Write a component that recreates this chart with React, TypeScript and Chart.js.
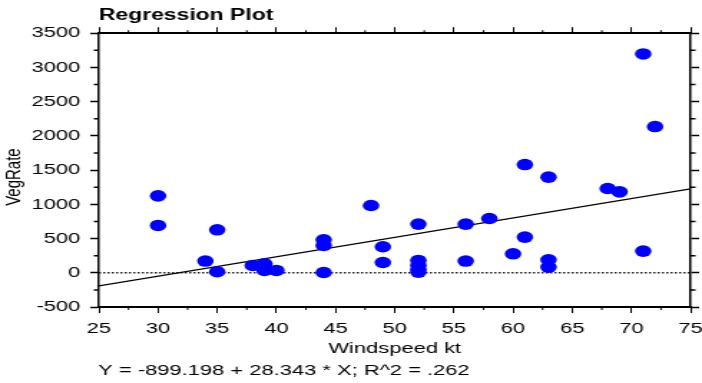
import React, { useEffect, useRef } from 'react';
import { Chart, registerables } from 'chart.js';

Chart.register(...registerables);

// ---- data ----
const windspeed = [30, 30, 34, 35, 35, 38, 39, 39, 40, 44, 44, 44, 48, 49, 49, 52, 52, 52, 52, 52, 56, 56, 58, 60, 61, 61, 63, 63, 63, 68, 69, 71, 71, 72];
const vegRate = [1124, 691, 171, 628, 15, 107, 131, 34, 34, 482, 399, 4, 983, 380, 150, 711, 180, 110, 50, 10, 711, 171, 793, 277, 521, 1581, 1397, 190, 83, 1231, 1182, 3197, 317, 2136];
const INTERCEPT = -899.198;
const SLOPE = 28.343;
const R_SQUARED = '.262';
const X_MIN = 25;
const X_MAX = 75;
const X_STEP = 5;
const Y_MIN = -500;
const Y_MAX = 3500;
const Y_STEP = 500;
const TITLE = 'Regression Plot';
const X_LABEL = 'Windspeed kt';
const Y_LABEL = 'VegRate';
const FOOTER = `Y = ${INTERCEPT} + ${SLOPE} * X; R^2 = ${R_SQUARED}`;

// internal canvas size, stretched horizontally by CSS to 702px
const CW = 490;
const CH = 383;
const FAMILY = '"Liberation Sans", Arial, sans-serif';

export default function App() {
  const ref = useRef<HTMLCanvasElement | null>(null);

  useEffect(() => {
    const canvas = ref.current;
    if (!canvas) return;

    const extras = {
      id: 'extras',
      afterDraw(chart: any) {
        const ctx = chart.ctx;
        const a = chart.chartArea;
        const xs = chart.scales.x;
        const ys = chart.scales.y;
        ctx.save();
        ctx.strokeStyle = '#000';
        ctx.lineWidth = 1;
        ctx.beginPath();
        for (let v = X_MIN + X_STEP / 2; v < X_MAX; v += X_STEP) {
          const px = xs.getPixelForValue(v);
          ctx.moveTo(px, a.bottom);
          ctx.lineTo(px, a.bottom + 3);
          ctx.moveTo(px, a.top);
          ctx.lineTo(px, a.top - 3);
        }
        ctx.stroke();
        ctx.lineWidth = 1.5;
        ctx.beginPath();
        for (let v = Y_MIN + Y_STEP / 2; v < Y_MAX; v += Y_STEP) {
          const py = ys.getPixelForValue(v);
          ctx.moveTo(a.left - 3.5, py);
          ctx.lineTo(a.left, py);
          ctx.moveTo(a.right, py);
          ctx.lineTo(a.right + 3.5, py);
        }
        ctx.stroke();
        ctx.fillStyle = '#000';
        ctx.font = `15.3px ${FAMILY}`;
        ctx.textAlign = 'left';
        ctx.textBaseline = 'middle';
        ctx.fillText(FOOTER, a.left - 0.5, 371);
        // y axis title
        ctx.font = `15px ${FAMILY}`;
        ctx.textAlign = 'center';
        ctx.translate(9.5, (a.top + a.bottom) / 2 + 7);
        ctx.rotate(-Math.PI / 2);
        ctx.fillText(Y_LABEL, 0, 0);
        ctx.restore();
      },
    };

    const tickFont = { size: 15.3, family: FAMILY };
    const gridOpts = { drawOnChartArea: false, drawTicks: true, tickLength: 6, tickColor: '#000' };
    const plain = (v: any) => String(v);

    const chart = new Chart(canvas, {
      type: 'scatter',
      data: {
        datasets: [
          {
            type: 'scatter',
            label: 'VegRate',
            data: windspeed.map((x, i) => ({ x, y: vegRate[i] })),
            backgroundColor: '#0000ff',
            borderColor: '#0000ff',
            borderWidth: 0,
            pointRadius: 5.8,
            pointHoverRadius: 5.8,
          },
          {
            type: 'line',
            label: 'fit',
            data: [
              { x: X_MIN, y: INTERCEPT + SLOPE * X_MIN },
              { x: X_MAX, y: INTERCEPT + SLOPE * X_MAX },
            ],
            borderColor: '#000',
            borderWidth: 1.3,
            pointRadius: 0,
            fill: false,
          },
          {
            type: 'line',
            label: 'zero',
            data: [
              { x: X_MIN, y: 0 },
              { x: X_MAX, y: 0 },
            ],
            borderColor: '#222',
            borderWidth: 1.5,
            borderDash: [1.5, 1.5],
            pointRadius: 0,
            fill: false,
          },
        ],
      } as any,
      options: {
        animation: false,
        responsive: false,
        devicePixelRatio: 1,
        layout: { padding: 0 },
        plugins: {
          legend: { display: false },
          tooltip: { enabled: false },
          title: {
            display: true,
            text: TITLE,
            align: 'start',
            fullSize: false,
            color: '#000',
            font: { size: 16, weight: 'bold', family: FAMILY },
            padding: { top: 6, bottom: 0 },
          },
        },
        scales: {
          x: {
            type: 'linear',
            position: 'bottom',
            min: X_MIN,
            max: X_MAX,
            ticks: { stepSize: X_STEP, color: '#000', font: tickFont, padding: 7, maxRotation: 0, autoSkip: false, callback: plain },
            grid: { ...gridOpts, tickWidth: 1 },
            border: { display: true, color: '#000', width: 2 },
            title: { display: true, text: X_LABEL, color: '#000', font: tickFont, padding: { top: 0, bottom: 25 } },
            afterFit: (s: any) => {
              s.height = 76;
              s.paddingLeft = 0;
              s.paddingRight = 0;
            },
          },
          x2: {
            type: 'linear',
            position: 'top',
            min: X_MIN,
            max: X_MAX,
            ticks: { stepSize: X_STEP, display: false },
            grid: { ...gridOpts, tickWidth: 1 },
            border: { display: true, color: '#000', width: 2 },
            afterFit: (s: any) => {
              s.height = 8;
              s.paddingLeft = 0;
              s.paddingRight = 0;
            },
          },
          y: {
            type: 'linear',
            position: 'left',
            min: Y_MIN,
            max: Y_MAX,
            ticks: { stepSize: Y_STEP, color: '#000', font: tickFont, padding: 7, callback: plain },
            grid: { ...gridOpts, tickWidth: 1.5 },
            border: { display: true, color: '#000', width: 1.5 },
            title: { display: false },
            afterFit: (s: any) => {
              s.width = 69;
            },
          },
          y2: {
            type: 'linear',
            position: 'right',
            min: Y_MIN,
            max: Y_MAX,
            ticks: { stepSize: Y_STEP, display: false },
            grid: { ...gridOpts, tickWidth: 1.5 },
            border: { display: true, color: '#000', width: 1.5 },
            afterFit: (s: any) => {
              s.width = 8;
            },
          },
        },
      } as any,
      plugins: [extras],
    });

    return () => chart.destroy();
  }, []);

  return (
    <div style={{ position: 'fixed', left: 0, top: 0, width: 702, height: 383, background: '#fff' }}>
      <canvas ref={ref} width={CW} height={CH} style={{ width: '702px', height: '383px', display: 'block' }} />
    </div>
  );
}
